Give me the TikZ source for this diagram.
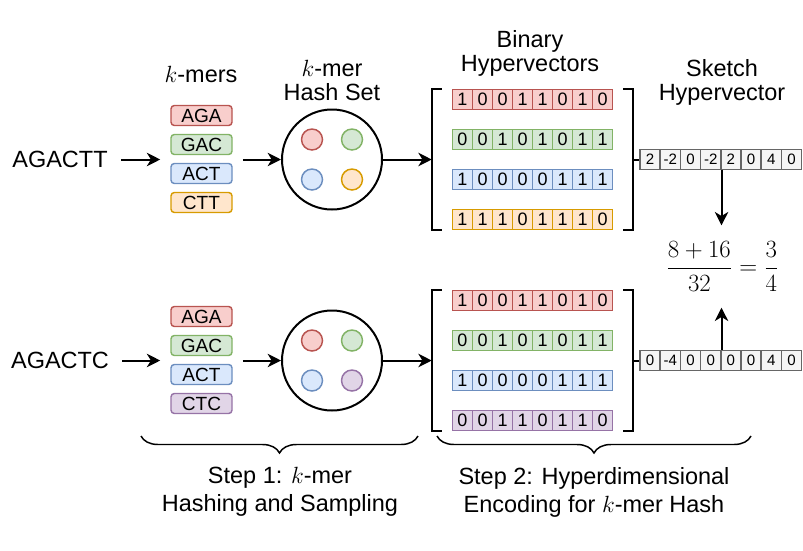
\documentclass[tikz,border=0pt]{standalone}
\usepackage{fix-cm}
\usepackage[no-math]{fontspec}
\setmainfont{Liberation Sans}
\usepackage{amsmath}
\usetikzlibrary{arrows.meta}
\usetikzlibrary{positioning}
\usetikzlibrary{calc}
\usetikzlibrary{decorations.pathreplacing}
\definecolor{redF}{HTML}{F8CECC}
\definecolor{redD}{HTML}{B85450}
\definecolor{greenF}{HTML}{D5E8D4}
\definecolor{greenD}{HTML}{82B366}
\definecolor{blueF}{HTML}{DAE8FC}
\definecolor{blueD}{HTML}{6C8EBF}
\definecolor{orangeF}{HTML}{FFE6CC}
\definecolor{orangeD}{HTML}{D79B00}
\definecolor{purpleF}{HTML}{E1D5E7}
\definecolor{purpleD}{HTML}{9673A6}
\definecolor{grayF}{HTML}{F5F5F5}
\definecolor{grayD}{HTML}{666666}

\begin{document}
\begin{tikzpicture}[x=0.75pt,y=-0.75pt]

  \tikzset{
    txt/.style={font=\fontsize{17.6}{18}\selectfont,align=center,inner sep=0pt},
    steptxt/.style={font=\fontsize{17.6}{21}\selectfont,align=center,inner sep=0pt},
    arr/.style={-{Stealth[length=10pt,width=10pt,inset=3pt]},line width=1.5pt},
    brk/.style={line width=1.5pt},
    kcol/.style={minimum width=61.5pt,minimum height=80pt,inner sep=0pt},
    kmerbox/.style={draw=#1D,fill=#1F,rounded corners=2.5pt,line width=1.1pt,
      minimum width=45.75pt,minimum height=15pt,inner sep=0pt,
      font=\fontsize{14.3}{16}\selectfont},
    hashset/.style={circle,draw,line width=1.5pt,minimum size=75pt,inner sep=0pt},
    dot/.style={circle,draw=#1D,fill=#1F,line width=1.1pt,minimum size=15.75pt,inner sep=0pt},
    hvbox/.style={minimum width=150.75pt,minimum height=105.75pt,inner sep=0pt},
    bitcell/.style={draw=#1D,fill=#1F,line width=1.1pt,minimum width=15pt,
      minimum height=15pt,inner sep=0pt,font=\fontsize{13.5}{15}\selectfont},
    skcell/.style={draw=grayD,fill=grayF,line width=1.1pt,minimum width=15.15pt,
      minimum height=15pt,inner sep=0pt,font=\fontsize{11.3}{13}\selectfont},
    bracebig/.style={decorate,decoration={brace,mirror,amplitude=12.75pt},line width=1.1pt},
  }
  \useasboundingbox (0,0) rectangle (803,550);

  %LABELS
  \node[txt,anchor=base] (lkm) at (201,82) {$k$-mers};
  \node[txt] (lhs) at (332,80) {$k$-mer\\Hash Set};
  \node[txt] (lhv) at (530,53) {Binary\\Hypervectors};
  \node[txt] (lsk) at (722,82.5) {Sketch\\Hypervector};

  %UPPER SEQUENCE
  \node[txt,inner xsep=10pt] (seq1) at (60,159.5) {AGACTT};
  \node[kcol] (kc1) at (201.5,159.5) {};
  \foreach \m/\col [count=\i] in {AGA/red,GAC/green,ACT/blue,CTT/orange}
    \node[kmerbox=\col] (km1\i) at (201.5,86.5+29*\i) {\m};
  \node[hashset] (hs1) at (332,159.5) {};
  \foreach \col/\dx/\dy [count=\i] in {red/-20/-20,green/20/-20,blue/-20/20,orange/20/20}
    \node[dot=\col] (hs1\i) at ($(hs1)+(\dx,\dy)$) {};
  \node[hvbox] (hv1) at (532.5,159.5) {};
  \foreach \bits/\col [count=\r] in {{1,0,0,1,1,0,1,0}/red,{0,0,1,0,1,0,1,1}/green,
      {1,0,0,0,0,1,1,1}/blue,{1,1,1,0,1,1,1,0}/orange}
    \foreach \b [count=\i] in \bits
      \node[bitcell=\col] (b1\r\i) at (442.5+20*\i,59.5+40*\r) {\b};
  \foreach \v [count=\i] in {2,-2,0,-2,2,0,4,0}
    \node[skcell] (sk1\i) at (629.9+20.2*\i,159.5) {\v};

  %LOWER SEQUENCE
  \node[txt,inner xsep=10pt] (seq2) at (60,360.5) {AGACTC};
  \node[kcol] (kc2) at (201.5,360.5) {};
  \foreach \m/\col [count=\i] in {AGA/red,GAC/green,ACT/blue,CTC/purple}
    \node[kmerbox=\col] (km2\i) at (201.5,287.5+29*\i) {\m};
  \node[hashset] (hs2) at (332,360.5) {};
  \foreach \col/\dx/\dy [count=\i] in {red/-20/-20,green/20/-20,blue/-20/20,purple/20/20}
    \node[dot=\col] (hs2\i) at ($(hs2)+(\dx,\dy)$) {};
  \node[hvbox] (hv2) at (532.5,360.5) {};
  \foreach \bits/\col [count=\r] in {{1,0,0,1,1,0,1,0}/red,{0,0,1,0,1,0,1,1}/green,
      {1,0,0,0,0,1,1,1}/blue,{0,0,1,1,0,1,1,0}/purple}
    \foreach \b [count=\i] in \bits
      \node[bitcell=\col] (b2\r\i) at (442.5+20*\i,260.5+40*\r) {\b};
  \foreach \v [count=\i] in {0,-4,0,0,0,0,4,0}
    \node[skcell] (sk2\i) at (629.9+20.2*\i,360.5) {\v};

  %BRACKETS
  \foreach \g in {1,2}{
    \draw[brk] ([xshift=7.5pt]hv\g.north west) -- (hv\g.north west)
      -- (hv\g.south west) -- ++(10,0);
    \draw[brk] ([xshift=-7.5pt]hv\g.north east) -- (hv\g.north east)
      -- (hv\g.south east) -- ++(-10,0);
  }

  %ARROWS
  \foreach \g in {1,2}{
    \draw[arr] (seq\g) -- (kc\g);
    \draw[arr] (kc\g) -- (hs\g);
    \draw[arr] (hs\g) -- (hv\g);
    \draw[brk] (hv\g.east) -- (sk\g1.west);
  }

  %RESULT
  \node[font=\fontsize{18.6}{21}\selectfont,inner xsep=0pt,inner ysep=12pt] (res) at (722.5,266.5)
    {$\dfrac{8+16}{32}=\dfrac{3}{4}$};
  \draw[arr] (sk14.south east) -- (sk14.south east |- res.north);
  \draw[arr] (sk24.north east) -- (sk24.north east |- res.south);

  %STEPS
  \coordinate (br1a) at (141,436);
  \coordinate (br1b) at (418,436);
  \coordinate (br2a) at (437,436);
  \coordinate (br2b) at (751,436);
  \draw[bracebig] (br1a) -- (br1b);
  \draw[bracebig] (br2a) -- (br2b);
  \node[steptxt] (st1) at (280,492) {Step 1: $k$-mer\\Hashing and Sampling};
  \node[steptxt] (st2) at (594,492) {Step 2: Hyperdimensional\\Encoding for $k$-mer Hash};

\end{tikzpicture}
\end{document}
